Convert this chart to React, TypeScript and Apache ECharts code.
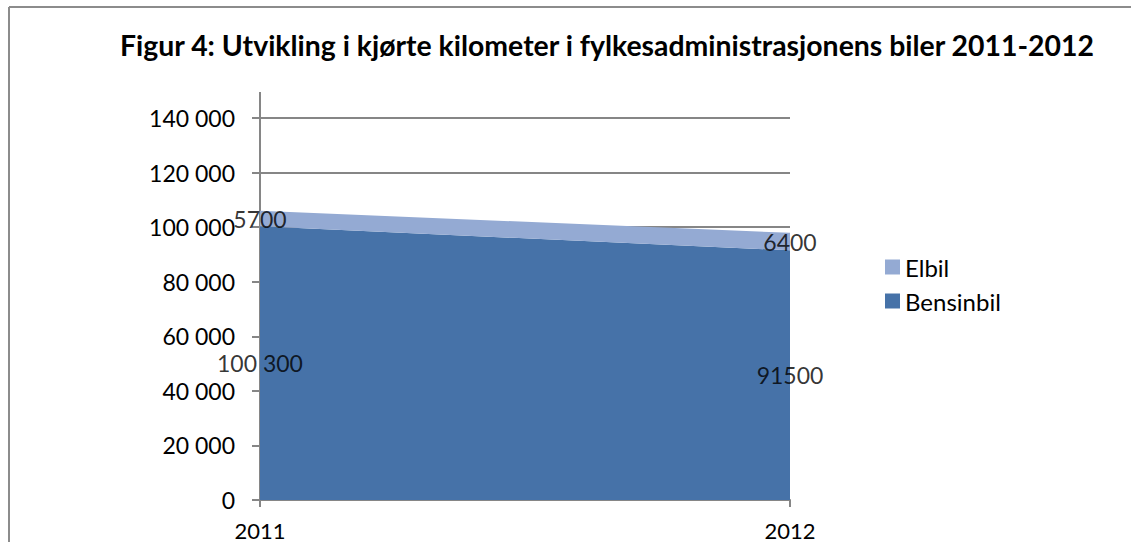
import React, { useEffect, useRef } from "react";
import * as echarts from "echarts";

const categories = ["2011", "2012"];
const bensinbil = [100300, 91500];
const elbil = [5700, 6400];
const bensinbilLabels = ["100 300", "91500"];
const elbilLabels = ["5700", "6400"];
const yTicks = [0, 20000, 40000, 60000, 80000, 100000, 120000, 140000];

const DARK = "#4672a8";
const LIGHT = "#94aad3";
const FONT = "Lato, 'Noto Sans', sans-serif";

function fmt(v: number) {
  return String(v).replace(/\B(?=(\d{3})+(?!\d))/g, " ");
}

export default function App() {
  const ref = useRef<HTMLDivElement>(null);
  useEffect(() => {
    if (!ref.current) return;
    const chart = echarts.init(ref.current, null, { renderer: "svg" });
    const bensMid = bensinbil.map((v, i) => [categories[i], v / 2]);
    const elMid = elbil.map((v, i) => [categories[i], bensinbil[i] + v / 2]);
    chart.setOption({
      animation: false,
      backgroundColor: "#ffffff",
      title: {
        text: "Figur 4: Utvikling i kjørte kilometer i fylkesadministrasjonens biler 2011-2012",
        left: 115,
        top: 26,
        textStyle: { fontFamily: FONT, fontWeight: "bold", fontSize: 28.4, color: "#000" },
      },
      legend: {
        orient: "vertical",
        left: 880,
        top: 250,
        itemWidth: 15,
        itemHeight: 15,
        itemGap: 10,
        icon: "rect",
        data: ["Elbil", "Bensinbil"],
        textStyle: { fontFamily: FONT, fontSize: 24, color: "#000" },
      },
      grid: { left: 260, right: 341, top: 118, bottom: 42, containLabel: false },
      xAxis: {
        type: "category",
        data: categories,
        boundaryGap: false,
        axisLine: { lineStyle: { color: "#868686", width: 2 } },
        axisTick: { show: true, length: 7, lineStyle: { color: "#868686", width: 2 } },
        axisLabel: { fontFamily: FONT, fontSize: 22, color: "#000", margin: 19 },
        splitLine: { show: false },
      },
      yAxis: {
        type: "value",
        min: 0,
        max: 140000,
        interval: 20000,
        axisLine: { show: true, lineStyle: { color: "#868686", width: 2 } },
        axisTick: { show: true, length: 8, lineStyle: { color: "#868686", width: 2 } },
        axisLabel: {
          fontFamily: FONT,
          fontSize: 23,
          color: "#000",
          margin: 25,
          formatter: (v: number) => (yTicks.includes(v) ? fmt(v) : ""),
        },
        splitLine: { show: true, lineStyle: { color: "#868686", width: 2 } },
      },
      series: [
        {
          name: "Bensinbil",
          type: "line",
          stack: "total",
          data: bensinbil,
          symbol: "none",
          lineStyle: { width: 0 },
          itemStyle: { color: DARK },
          areaStyle: { color: DARK, opacity: 1 },
          z: 2,
        },
        {
          name: "Elbil",
          type: "line",
          stack: "total",
          data: elbil,
          symbol: "none",
          lineStyle: { width: 0 },
          itemStyle: { color: LIGHT },
          areaStyle: { color: LIGHT, opacity: 1 },
          z: 2,
        },
        {
          name: "labels-b",
          type: "scatter",
          data: bensMid,
          symbolSize: 0,
          silent: true,
          z: 5,
          label: {
            show: true,
            position: "inside",
            fontFamily: FONT,
            fontSize: 23,
            color: "#000",
            formatter: (p: any) => bensinbilLabels[p.dataIndex],
          },
        },
        {
          name: "labels-e",
          type: "scatter",
          data: elMid,
          symbolSize: 0,
          silent: true,
          z: 5,
          label: {
            show: true,
            position: "inside",
            fontFamily: FONT,
            fontSize: 23,
            color: "#000",
            formatter: (p: any) => elbilLabels[p.dataIndex],
          },
        },
      ],
      graphic: [
        { type: "line", shape: { x1: 9, y1: 7, x2: 1131, y2: 7 }, style: { stroke: "#8c8c8c", lineWidth: 2 } },
        { type: "line", shape: { x1: 9, y1: 7, x2: 9, y2: 542 }, style: { stroke: "#8c8c8c", lineWidth: 2 } },
        { type: "line", shape: { x1: 260, y1: 92, x2: 260, y2: 118 }, style: { stroke: "#868686", lineWidth: 2 } },
      ],
    });
    return () => chart.dispose();
  }, []);
  return (
    <div
      ref={ref}
      style={{ position: "fixed", left: 0, top: 0, width: 1131, height: 542 }}
    />
  );
}
